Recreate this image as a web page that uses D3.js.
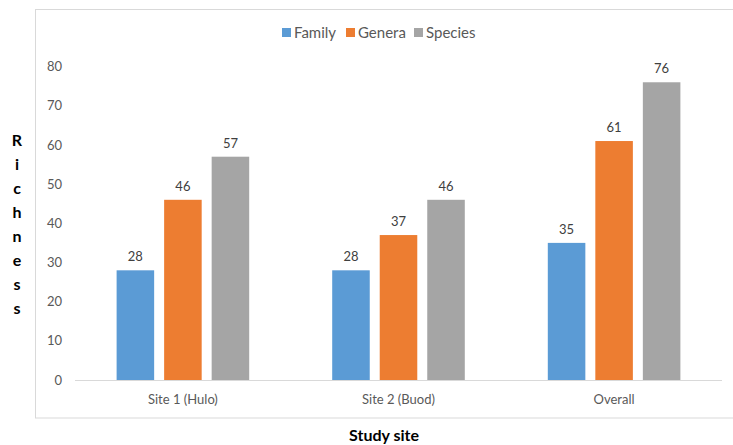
<!DOCTYPE html>
<html>
<head>
<meta charset="utf-8">
<script src="https://cdn.jsdelivr.net/npm/d3@7"></script>
<style>
  html, body { margin: 0; padding: 0; background: #fff; }
  svg { display: block; }
  text { font-family: Lato, "Open Sans", sans-serif; }
</style>
</head>
<body>
<svg id="chart" width="733" height="445"></svg>
<script>
// Richness by study site
const sites = ["Site 1 (Hulo)", "Site 2 (Buod)", "Overall"];
const seriesNames = ["Family", "Genera", "Species"];
const family = [28, 28, 35];
const genera = [46, 37, 61];
const species = [57, 46, 76];
const yTicks = [0, 10, 20, 30, 40, 50, 60, 70, 80];
const colors = ["#5b9bd5", "#ed7d31", "#a5a5a5"];
const yTitle = "Richness";
const xTitle = "Study site";

const seriesValues = [family, genera, species];
const rows = sites.map((s, i) => ({
  site: s,
  values: seriesNames.map((n, j) => ({ key: n, value: seriesValues[j][i] }))
}));

const svg = d3.select("#chart");

// chart frame
svg.append("rect")
  .attr("x", 35.5).attr("y", 9.5)
  .attr("width", 720).attr("height", 408.5)
  .attr("fill", "#fff")
  .attr("stroke", "#d9d9d9").attr("stroke-width", 1);

const plot = { left: 75, right: 722, top: 66.6, bottom: 380 };

const x0 = d3.scaleBand()
  .domain(sites)
  .range([plot.left, plot.right])
  .paddingInner(0.385)
  .paddingOuter(0.193);

const x1 = d3.scaleBand()
  .domain(seriesNames)
  .range([0, x0.bandwidth()])
  .paddingInner(0.21);

const y = d3.scaleLinear()
  .domain([0, 80])
  .range([plot.bottom, plot.top]);

const color = d3.scaleOrdinal().domain(seriesNames).range(colors);

// y axis labels (no axis line)
const yAxis = svg.append("g")
  .attr("transform", `translate(${plot.left},0)`)
  .call(d3.axisLeft(y).tickValues(yTicks).tickSize(0).tickPadding(13));
yAxis.select(".domain").remove();
yAxis.selectAll("text")
  .attr("fill", "#595959")
  .style("font-size", "13px")
  .style("font-family", "Lato, 'Open Sans', sans-serif");

// bars
const groups = svg.append("g").selectAll("g")
  .data(rows)
  .join("g")
  .attr("transform", d => `translate(${x0(d.site)},0)`);

groups.selectAll("rect")
  .data(d => d.values)
  .join("rect")
  .attr("x", d => x1(d.key))
  .attr("y", d => y(d.value))
  .attr("width", x1.bandwidth())
  .attr("height", d => y(0) - y(d.value))
  .attr("fill", d => color(d.key));

groups.selectAll("text.val")
  .data(d => d.values)
  .join("text")
  .attr("class", "val")
  .attr("x", d => x1(d.key) + x1.bandwidth() / 2)
  .attr("y", d => y(d.value) - 9)
  .attr("text-anchor", "middle")
  .attr("fill", "#404040")
  .style("font-size", "13px")
  .text(d => d.value);

// x axis baseline and category labels
const xAxis = svg.append("g")
  .attr("transform", `translate(0,${plot.bottom})`)
  .call(d3.axisBottom(x0).tickSize(0).tickPadding(15).tickSizeOuter(0));
xAxis.select(".domain")
  .attr("stroke", "#d9d9d9")
  .attr("d", `M${plot.left},0.5H${plot.right}`);
xAxis.selectAll("text")
  .attr("fill", "#595959")
  .style("font-size", "13px")
  .style("font-family", "Lato, 'Open Sans', sans-serif");

// legend
const legendItems = [
  { key: "Family", sx: 282, tx: 294 },
  { key: "Genera", sx: 346, tx: 358 },
  { key: "Species", sx: 414, tx: 426 }
];
const legend = svg.append("g");
legend.selectAll("rect")
  .data(legendItems)
  .join("rect")
  .attr("x", d => d.sx).attr("y", 28)
  .attr("width", 9).attr("height", 9)
  .attr("fill", d => color(d.key));
legend.selectAll("text")
  .data(legendItems)
  .join("text")
  .attr("x", d => d.tx).attr("y", 38)
  .attr("fill", "#595959")
  .style("font-size", "15px")
  .text(d => d.key);

// vertical stacked y title
svg.append("g").selectAll("text")
  .data(yTitle.split(""))
  .join("text")
  .attr("x", 17)
  .attr("y", (d, i) => 146 + i * 24)
  .attr("text-anchor", "middle")
  .attr("fill", "#000")
  .style("font-size", "16px")
  .style("font-weight", "bold")
  .text(d => d);

// x title
svg.append("text")
  .attr("x", 384).attr("y", 441)
  .attr("text-anchor", "middle")
  .attr("fill", "#000")
  .style("font-size", "16px")
  .style("font-weight", "bold")
  .text(xTitle);
</script>
</body>
</html>
